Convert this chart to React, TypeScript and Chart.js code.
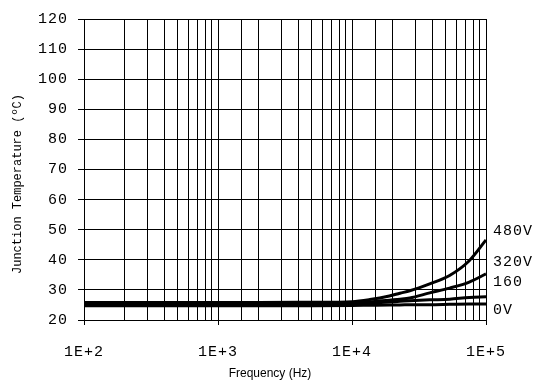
import React, { useEffect, useRef } from "react";
import { Chart, registerables } from "chart.js";

Chart.register(...registerables);

const frequencies = [100, 200, 500, 1000, 2000, 5000, 10000, 13600, 19000, 22800, 27000, 38000, 53500, 75000, 100000];
const v480 = [25.8, 25.8, 25.8, 25.8, 25.8, 25.9, 26.1, 26.8, 28.0, 28.9, 29.7, 32.0, 34.8, 39.7, 46.6];
const v320 = [25.4, 25.4, 25.4, 25.4, 25.4, 25.5, 25.7, 26.0, 26.6, 26.9, 27.3, 29.0, 30.6, 32.6, 35.3];
const v160 = [25.0, 25.0, 25.0, 25.0, 25.0, 25.1, 25.3, 25.6, 26.0, 26.2, 26.4, 26.7, 26.9, 27.5, 27.7];
const v0 = [24.7, 24.7, 24.7, 24.7, 24.7, 24.7, 24.8, 24.9, 25.0, 25.0, 25.1, 25.1, 25.2, 25.3, 25.3];

const seriesNames = ["480V", "320V", "160", "0V"];
const seriesValues = [v480, v320, v160, v0];
// value (°C) at which each end label is centred
const labelAnchors = [49.6, 39.4, 32.5, 23.3];

const yTitle = "Junction Temperature (ºC)";
const xTitle = "Frequency (Hz)";

const MONO = "'Liberation Mono', 'Courier New', monospace";

export default function App() {
  const ref = useRef<HTMLCanvasElement>(null);

  useEffect(() => {
    const canvas = ref.current!;
    const textPlugin = {
      id: "texts",
      beforeDraw(chart: any) {
        chart.ctx.letterSpacing = "1px";
      },
      afterDraw(chart: any) {
        const ctx = chart.ctx;
        const area = chart.chartArea;
        const ys = chart.scales.y;
        ctx.save();
        ctx.fillStyle = "#000";
        // y title
        ctx.letterSpacing = "0px";
        ctx.font = `12px ${MONO}`;
        ctx.textAlign = "center";
        ctx.textBaseline = "middle";
        ctx.save();
        ctx.translate(18, 184);
        ctx.rotate(-Math.PI / 2);
        ctx.fillText(yTitle, 0, 0);
        ctx.restore();
        // x title
        ctx.font = "12px 'Liberation Sans', Arial, sans-serif";
        ctx.fillText(xTitle, 270, 374);
        // series labels
        ctx.letterSpacing = "1px";
        ctx.font = `15px ${MONO}`;
        ctx.textAlign = "left";
        seriesNames.forEach((n, i) => {
          ctx.fillText(n, area.right + 7, ys.getPixelForValue(labelAnchors[i]));
        });
        ctx.restore();
        ctx.letterSpacing = "0px";
      },
    };

    const chart = new Chart(canvas, {
      type: "line",
      data: {
        datasets: seriesValues.map((vals, i) => ({
          label: seriesNames[i],
          data: frequencies.map((f, j) => ({ x: f, y: vals[j] })),
          borderColor: "#000",
          borderWidth: 3,
          pointRadius: 0,
          fill: false,
          cubicInterpolationMode: "monotone" as const,
        })),
      },
      options: {
        responsive: false,
        animation: false,
        devicePixelRatio: 1,
        layout: { padding: { top: 16, right: 51, left: 0, bottom: 0 } },
        plugins: { legend: { display: false }, tooltip: { enabled: false } },
        scales: {
          x: {
            type: "logarithmic",
            min: 100,
            max: 100000,
            afterFit: (s: any) => {
              s.height = 65;
            },
            grid: {
              color: "#000",
              lineWidth: 1,
              tickLength: 5,
              tickColor: (c: any) => {
                const v = c.tick?.value;
                if (v == null) return "transparent";
                const l = Math.round(Math.log10(v));
                return Math.abs(Math.pow(10, l) - v) < 1e-6 ? "#000" : "transparent";
              },
            },
            border: { color: "#000", width: 1 },
            ticks: {
              autoSkip: false,
              maxRotation: 0,
              padding: 18,
              color: "#000",
              font: { family: MONO, size: 15 },
              callback: (v: any) => {
                const n = Number(v);
                const l = Math.round(Math.log10(n));
                return Math.abs(Math.pow(10, l) - n) < 1e-6 ? `1E+${l}` : "";
              },
            },
          },
          y: {
            min: 20,
            max: 120,
            afterFit: (s: any) => {
              s.width = 84;
            },
            grid: { color: "#000", lineWidth: 1, tickLength: 6, tickColor: "#000" },
            border: { color: "#000", width: 1 },
            ticks: {
              stepSize: 10,
              padding: 10,
              color: "#000",
              font: { family: MONO, size: 15 },
            },
          },
        },
      },
      plugins: [textPlugin],
    });
    return () => chart.destroy();
  }, []);

  return (
    <div style={{ position: "fixed", left: 0, top: 0, width: 537, height: 385, background: "#fff" }}>
      <canvas ref={ref} width={537} height={385} style={{ display: "block" }} />
    </div>
  );
}
